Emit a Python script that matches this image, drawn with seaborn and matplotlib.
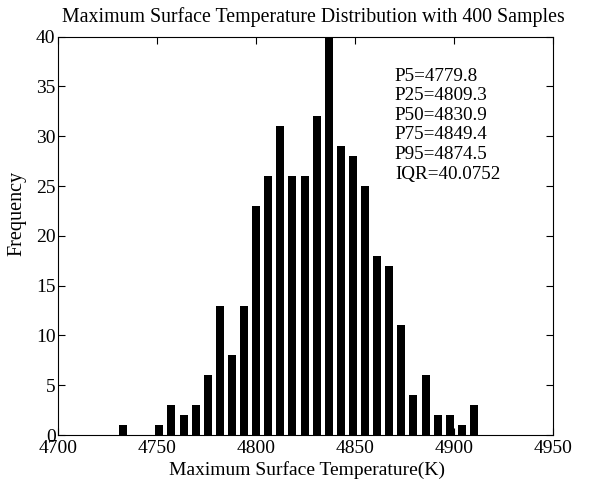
import matplotlib
matplotlib.use("Agg")
import matplotlib.pyplot as plt
import seaborn as sns
import pandas as pd

bin_centers = [4732.7, 4738.8, 4744.9, 4751.0, 4757.1, 4763.3, 4769.4, 4775.5, 4781.6, 4787.7,
               4793.8, 4799.9, 4806.0, 4812.1, 4818.2, 4824.4, 4830.5, 4836.6, 4842.7, 4848.8,
               4854.9, 4861.0, 4867.1, 4873.2, 4879.3, 4885.5, 4891.6, 4897.7, 4903.8, 4909.9]
counts = [1, 0, 0, 1, 3, 2, 3, 6, 13, 8,
          13, 23, 26, 31, 26, 26, 32, 40, 29, 28,
          25, 18, 17, 11, 4, 6, 2, 2, 1, 3]
x_ticks = [4700, 4750, 4800, 4850, 4900, 4950]
y_ticks = [0, 5, 10, 15, 20, 25, 30, 35, 40]
stats_text = ["P5=4779.8", "P25=4809.3", "P50=4830.9", "P75=4849.4", "P95=4874.5", "IQR=40.0752"]

title = "Maximum Surface Temperature Distribution with 400 Samples"
xlabel = "Maximum Surface Temperature(K)"
ylabel = "Frequency"

sns.set_theme(style="white")
plt.rcParams["font.family"] = ["Liberation Serif", "DejaVu Serif"]

df = pd.DataFrame({"temp": bin_centers, "freq": counts})

fig = plt.figure(figsize=(5.91, 4.84), dpi=100)
ax = fig.add_axes([58.3 / 591, 1 - 435 / 484, (553.3 - 58.3) / 591, (435 - 36.7) / 484])

sns.barplot(data=df, x="temp", y="freq", native_scale=True, width=0.65,
            color="black", saturation=1, edgecolor="black", linewidth=0, ax=ax)

ax.set_xlim(4700, 4950)
ax.set_ylim(0, 40)
ax.set_xticks(x_ticks)
ax.set_yticks(y_ticks)
ax.set_xticklabels([str(t) for t in x_ticks])
ax.set_yticklabels([str(t) for t in y_ticks])
ax.tick_params(direction="in", length=5, width=0.8, color="black", labelsize=14,
               labelcolor="black", top=True, right=True, bottom=True, left=True)
ax.tick_params(axis="x", pad=3.5)
ax.tick_params(axis="y", pad=2)
for s in ax.spines.values():
    s.set_visible(True)
    s.set_color("black")
    s.set_linewidth(0.8)
ax.set_xlabel("")
ax.set_ylabel("")

ax.text(4870, 36.9, "\n".join(stats_text), fontsize=13.8, va="top", ha="left",
        linespacing=1.2, color="black")

fig.text(313 / 591, 1 - 22 / 484, title, ha="center", va="baseline", fontsize=14.3, color="black")
fig.text(307 / 591, 1 - 470 / 484, xlabel, ha="center", va="center", fontsize=14, color="black")
fig.text(17 / 591, 1 - 213.5 / 484, ylabel, ha="center", va="center", rotation=90, fontsize=14.5,
         color="black")

fig.savefig("out.png", dpi=100, facecolor="white")
